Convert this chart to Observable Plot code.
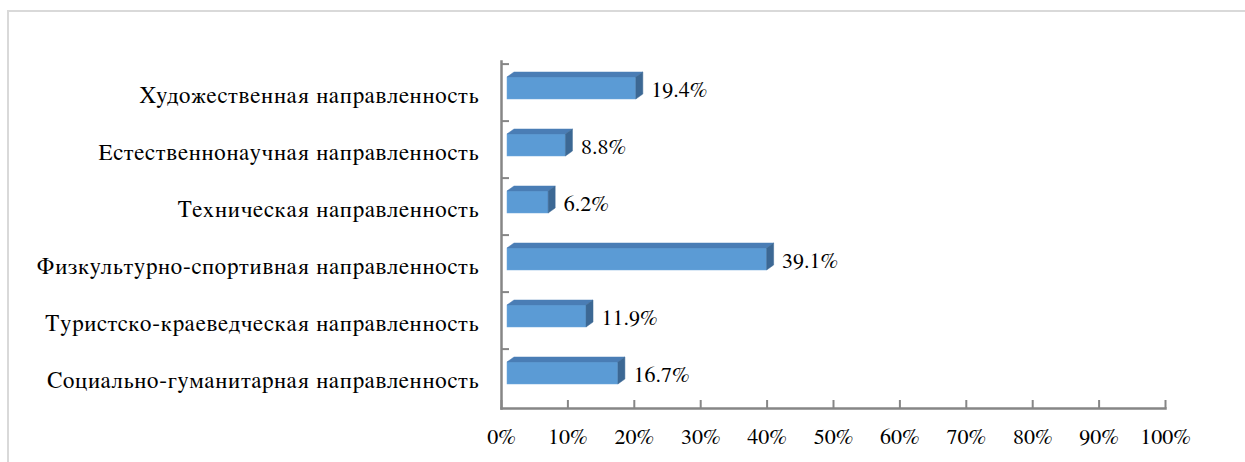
<!DOCTYPE html>
<html>
<head>
<meta charset="utf-8">
<script src="https://cdn.jsdelivr.net/npm/d3@7"></script>
<script src="https://cdn.jsdelivr.net/npm/@observablehq/plot@0.6"></script>
<style>
  html, body { margin: 0; padding: 0; background: #fff; overflow: hidden; }
  #wrap { position: relative; width: 1245px; height: 462px; overflow: hidden; }
  #border { position: absolute; left: 7px; top: 10px; width: 1300px; height: 500px;
            border: 2px solid #d9d9d9; box-sizing: border-box; }
  #chart { position: absolute; left: 0; top: 0; }
  #chart svg text { font-family: "FreeSerif", "Liberation Serif", serif; }
  #chart svg g[aria-label="y-axis tick label"] text { letter-spacing: 0.9px; }
</style>
</head>
<body>
<div id="wrap"><div id="border"></div><div id="chart"></div></div>
<script>
const categories = [
  "Художественная направленность",
  "Естественнонаучная направленность",
  "Техническая направленность",
  "Физкультурно-спортивная направленность",
  "Туристско-краеведческая направленность",
  "Социально-гуманитарная направленность"
];
const values = [0.194, 0.088, 0.062, 0.391, 0.119, 0.167];
const valueLabels = ["19.4%", "8.8%", "6.2%", "39.1%", "11.9%", "16.7%"];
const xTicks = [0, 0.1, 0.2, 0.3, 0.4, 0.5, 0.6, 0.7, 0.8, 0.9, 1.0];
const xTickLabels = ["0%", "10%", "20%", "30%", "40%", "50%", "60%", "70%", "80%", "90%", "100%"];

const data = categories.map((c, i) => ({cat: c, value: values[i], label: valueLabels[i]}));

const AXIS = "#868686";
const DX = 7, DH = 5;

function bar3d(index, scales, vals, dims, ctx, next) {
  const g = next(index, scales, vals, dims, ctx);
  const sel = d3.select(g);
  const rects = [];
  sel.selectAll("rect").each(function() {
    rects.push({x: +this.getAttribute("x"), y: +this.getAttribute("y"),
                w: +this.getAttribute("width"), h: +this.getAttribute("height")});
  });
  for (const r of rects) {
    const x0 = r.x, x1 = r.x + r.w, y0 = r.y, y1 = r.y + r.h;
    sel.append("polygon")
      .attr("points", [[x0, y0], [x0 + DX, y0 - DH], [x1 + DX, y0 - DH], [x1, y0]].join(" "))
      .attr("fill", "#4a7db5").attr("stroke", "#4a7db5").attr("stroke-width", 0.5);
    sel.append("polygon")
      .attr("points", [[x1, y0], [x1 + DX, y0 - DH], [x1 + DX, y1 - DH], [x1, y1]].join(" "))
      .attr("fill", "#3c6894").attr("stroke", "#3c6894").attr("stroke-width", 0.5);
  }
  return g;
}

const plot = Plot.plot({
  width: 1245,
  height: 462,
  marginLeft: 501,
  marginRight: 80,
  marginTop: 61,
  marginBottom: 54,
  style: {fontFamily: "FreeSerif, 'Liberation Serif', serif", fontSize: "22px", color: "#000", background: "transparent"},
  x: {domain: [0, 1], axis: null, label: null},
  y: {domain: categories, axis: null, padding: 0, label: null},
  marks: [
    Plot.barX(data, {x1: 0, x2: "value", y: "cat", insetTop: 13, insetBottom: 22, dx: 6,
      fill: "#5b9bd5", stroke: "#6fa8dc", strokeWidth: 0.5, render: bar3d}),
    Plot.text(data, {x: "value", y: "cat", text: "label", textAnchor: "start", dx: 21, dy: -3,
      fontSize: 22, fill: "#000"}),
    Plot.axisY({tickSize: 0, tickPadding: 22, dy: 3, fontSize: 23, textAnchor: "end", label: null}),
    Plot.axisX(xTicks, {tickSize: 0, tickPadding: 20, fontSize: 22, label: null,
      tickFormat: (d, i) => xTickLabels[i]}),
    Plot.tickX(xTicks, {x: d => d, stroke: AXIS, strokeWidth: 2, insetTop: 339}),
    Plot.tickY(categories, {y: d => d, dy: -28.9, stroke: AXIS, strokeWidth: 2, insetRight: 656}),
    Plot.frame({anchor: "left", stroke: AXIS, strokeWidth: 2.5}),
    Plot.frame({anchor: "bottom", stroke: AXIS, strokeWidth: 2.5})
  ]
});
document.getElementById("chart").appendChild(plot);
</script>
</body>
</html>
